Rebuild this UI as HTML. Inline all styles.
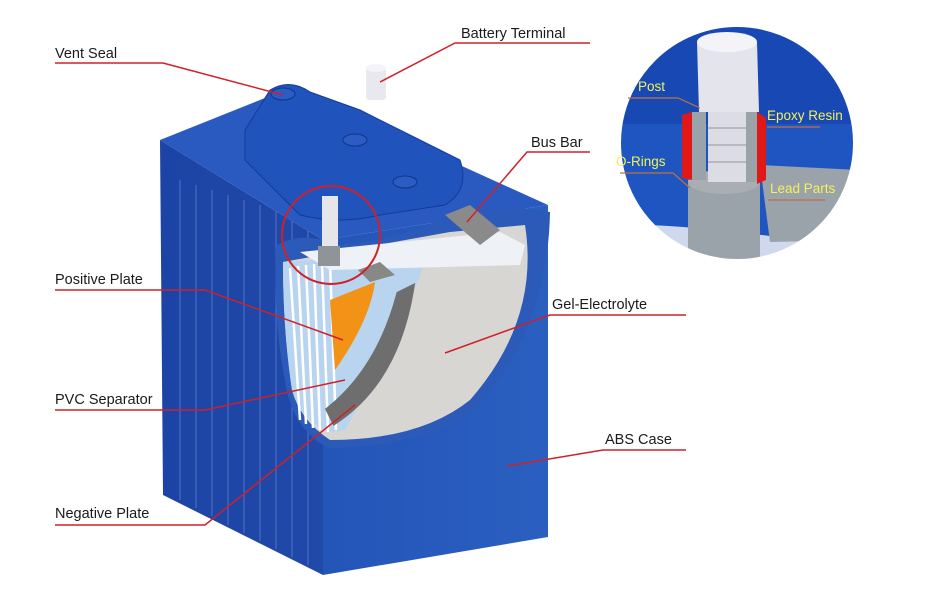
<!DOCTYPE html>
<html><head><meta charset="utf-8"><style>
html,body{margin:0;padding:0;background:#fff;}
svg{display:block}
text{font-family:"Liberation Sans",Arial,sans-serif;font-size:14.5px;fill:#1a1a1a}
.y{fill:#f2f25a;font-size:13.5px}
</style></head><body>
<svg width="940" height="603" viewBox="0 0 940 603">
<defs>
<linearGradient id="lf" x1="0" x2="1"><stop offset="0" stop-color="#1c44a6"/><stop offset="1" stop-color="#2149a8"/></linearGradient>
<linearGradient id="rf" x1="0" x2="1"><stop offset="0" stop-color="#2455b8"/><stop offset="1" stop-color="#2a5fc0"/></linearGradient>
<clipPath id="cc"><circle cx="737" cy="143" r="117"/></clipPath>
</defs>
<!-- left face -->
<polygon points="160,140 323,240 323,575 163,495" fill="url(#lf)"/>
<g stroke="#4f74c4" stroke-width="1">
<line x1="180" y1="180" x2="180" y2="500"/><line x1="196" y1="185" x2="196" y2="508"/><line x1="212" y1="190" x2="212" y2="516"/><line x1="228" y1="195" x2="228" y2="525"/><line x1="244" y1="200" x2="244" y2="533"/><line x1="260" y1="205" x2="260" y2="541"/><line x1="276" y1="210" x2="276" y2="549"/><line x1="292" y1="215" x2="292" y2="557"/><line x1="308" y1="220" x2="308" y2="565"/>
</g>
<!-- right face -->
<polygon points="323,240 548,205 548,537 323,575" fill="url(#rf)"/>
<!-- top -->
<polygon points="160,140 290,88 548,205 323,240" fill="#2a5ac0"/>
<!-- lid -->
<path d="M245,130 L270,90 Q290,78 310,92 L360,110 L460,160 Q470,190 445,205 L380,215 Q340,225 300,215 L245,160 Z" fill="#2153bc" stroke="#143c98" stroke-width="1"/>
<ellipse cx="283" cy="94" rx="12" ry="6" fill="#2a5cc4" stroke="#12358a"/>
<ellipse cx="355" cy="140" rx="12" ry="6" fill="#2a5cc4" stroke="#12358a"/>
<ellipse cx="405" cy="182" rx="12" ry="6" fill="#2a5cc4" stroke="#12358a"/>
<!-- terminal -->
<rect x="366" y="68" width="20" height="32" fill="#e8e8ee" rx="3"/>
<ellipse cx="376" cy="68" rx="10" ry="4" fill="#f4f4f8"/>
<!-- cutaway -->
<path d="M276,246 Q300,230 340,245 Q400,240 450,215 L520,208 L550,212 Q548,330 472,412 Q420,448 328,448 Q298,432 288,396 Q273,330 276,246 Z" fill="#2b5ab8"/>
<path d="M283,262 L450,232 L525,225 Q540,320 470,400 Q420,440 330,440 Q300,420 292,390 Q283,330 283,262 Z" fill="#d8d6d2"/>
<!-- plates area -->
<path d="M283,262 L380,255 L430,250 Q400,330 345,430 L330,432 Q300,420 292,390 Q283,330 283,262 Z" fill="#b8d4ee"/>
<g stroke="#fff" stroke-width="2.5">
<line x1="290" y1="268" x2="300" y2="420"/><line x1="298" y1="266" x2="306" y2="424"/><line x1="306" y1="265" x2="313" y2="428"/><line x1="314" y1="264" x2="320" y2="430"/><line x1="322" y1="263" x2="328" y2="432"/><line x1="330" y1="262" x2="336" y2="430"/>
</g>
<path d="M300,252 L500,232 L525,245 L520,265 L330,270 Z" fill="#eef2f6"/>
<path d="M330,300 L375,282 Q370,320 335,370 Z" fill="#f29217"/>
<path d="M400,295 L410,290 Q395,380 335,420 L330,410 Q380,370 400,295 Z" fill="#6e6e6e" stroke="#6e6e6e" stroke-width="8"/>
<polygon points="445,215 470,205 500,230 480,245" fill="#8a8a8a"/>
<polygon points="358,270 380,262 395,275 370,282" fill="#888"/>
<!-- inner terminal in red circle -->
<rect x="322" y="196" width="16" height="50" fill="#e6e6ea"/>
<rect x="318" y="246" width="22" height="20" fill="#8f9499"/>
<circle cx="331" cy="235" r="49" fill="none" stroke="#d0202a" stroke-width="2"/>
<!-- inset -->
<g clip-path="url(#cc)">
<rect x="618" y="24" width="240" height="240" fill="#1f55c0"/>
<rect x="618" y="24" width="240" height="100" fill="#1848b4"/>
<path d="M618,225 Q680,222 858,248 L858,264 L618,264 Z" fill="#cfd8ec"/>
<path d="M760,165 L858,170 L858,240 L770,242 Z" fill="#9aa2aa"/>
<rect x="688" y="180" width="72" height="80" fill="#9aa2aa"/>
<ellipse cx="724" cy="182" rx="36" ry="12" fill="#a8aeb4"/>
<path d="M682,115 L692,112 L692,180 L682,178 Z" fill="#e01818"/>
<path d="M757,112 L766,118 L766,180 L757,184 Z" fill="#e01818"/>
<rect x="692" y="112" width="14" height="68" fill="#9aa2aa"/>
<rect x="744" y="112" width="13" height="70" fill="#9aa2aa"/>
<rect x="708" y="110" width="38" height="72" fill="#dcdde4"/>
<g stroke="#b8b8c2" stroke-width="2"><line x1="708" y1="128" x2="746" y2="128"/><line x1="708" y1="145" x2="746" y2="145"/><line x1="708" y1="162" x2="746" y2="162"/></g>
<path d="M697,42 L757,42 L759,112 L699,112 Z" fill="#e4e4ec"/>
<ellipse cx="727" cy="42" rx="30" ry="10" fill="#f4f4f8"/>
</g>
<circle cx="737" cy="143" r="117" fill="none" stroke="#fff" stroke-width="2"/>
<g stroke="#c07040" stroke-width="1.2" fill="none">
<polyline points="628,98 678,98 700,108"/><polyline points="767,127 820,127"/>
<polyline points="620,173 673,173 690,188"/><polyline points="768,200 825,200"/>
</g>
<text class="y" x="638" y="91">Post</text>
<text class="y" x="767" y="120">Epoxy Resin</text>
<text class="y" x="616" y="166">O-Rings</text>
<text class="y" x="770" y="193">Lead Parts</text>
<!-- leader lines -->
<g stroke="#d0202a" stroke-width="1.5" fill="none">
<polyline points="55,63 163,63 283,95"/>
<polyline points="590,43 455,43 380,82"/>
<polyline points="590,152 527,152 467,222"/>
<polyline points="55,290 205,290 343,340"/>
<polyline points="686,315 550,315 445,353"/>
<polyline points="55,410 205,410 345,380"/>
<polyline points="686,450 603,450 507,466"/>
<polyline points="55,525 205,525 355,405"/>
</g>
<text x="55" y="58">Vent Seal</text>
<text x="461" y="38">Battery Terminal</text>
<text x="531" y="147">Bus Bar</text>
<text x="55" y="284">Positive Plate</text>
<text x="552" y="309">Gel-Electrolyte</text>
<text x="55" y="404">PVC Separator</text>
<text x="605" y="444">ABS Case</text>
<text x="55" y="518">Negative Plate</text>
</svg>
</body></html>
